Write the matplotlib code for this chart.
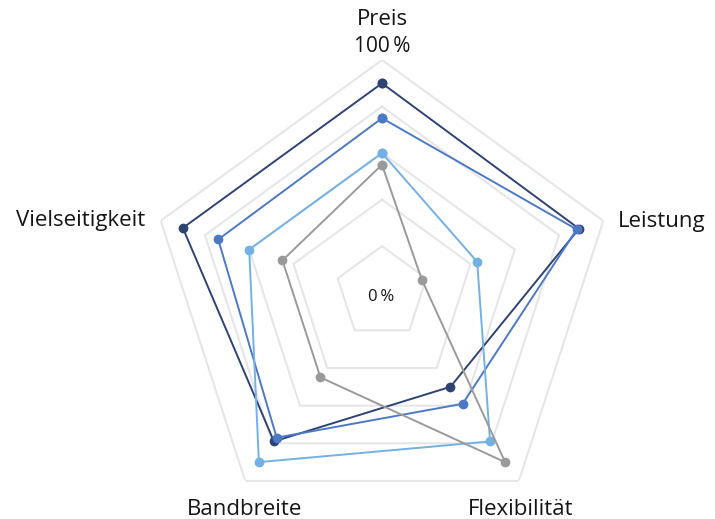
import numpy as np
import matplotlib
matplotlib.use("Agg")
import matplotlib.pyplot as plt

plt.rcParams["font.family"] = ["Open Sans", "DejaVu Sans"]

# =========================
# data
# =========================
categories = ["Preis", "Leistung", "Flexibilität", "Bandbreite", "Vielseitigkeit"]

series_a = [0.90, 0.89, 0.50, 0.79, 0.90]   # dunkelblau
series_b = [0.75, 0.88, 0.59, 0.77, 0.74]   # mittelblau
series_c = [0.60, 0.43, 0.79, 0.90, 0.60]   # hellblau
series_d = [0.55, 0.18, 0.90, 0.45, 0.45]   # grau

grid_levels = [0.2, 0.4, 0.6, 0.8, 1.0]

colors = ["#2f4373", "#4d79c4", "#73b0e4", "#9a9a9a"]

W, H = 715, 519

# =========================
# figure
# =========================
fig = plt.figure(figsize=(W / 100, H / 100), dpi=100)

cx, cy, R = 382, 292.7, 232.7
ax = fig.add_axes([(cx - R) / W, 1 - (cy + R) / H, 2 * R / W, 2 * R / H],
                  projection="polar")
ax.set_theta_offset(np.pi / 2)
ax.set_theta_direction(-1)
ax.set_ylim(0, 1)
ax.set_xticks([])
ax.set_yticks([])
ax.grid(False)
ax.spines["polar"].set_visible(False)
ax.patch.set_alpha(0)

n = len(categories)
angles = np.linspace(0, 2 * np.pi, n, endpoint=False)
closed = np.append(angles, angles[0])

# pentagon grid
for lv in grid_levels:
    ax.plot(closed, [lv] * (n + 1), color="#e6e6e6", lw=1.5, zorder=1,
            solid_joinstyle="miter")

for vals, col in zip([series_a, series_b, series_c, series_d], colors):
    v = np.append(vals, vals[0])
    ax.plot(closed, v, color=col, lw=1.4, marker="o", markersize=6,
            zorder=3, clip_on=False)

# =========================
# labels
# =========================
def px(x, y):
    return x / W, 1 - y / H

fs = 16
tc = "#151515"
fig.text(*px(382, 25), "Preis", ha="center", va="baseline", fontsize=fs, color=tc)
fig.text(*px(382, 52.5), "100\u2009%", ha="center", va="baseline", fontsize=15, color=tc)
fig.text(*px(381.5, 300.7), "0\u2009%", ha="center", va="baseline", fontsize=12, color=tc)
fig.text(*px(618, 226.7), "Leistung", ha="left", va="baseline", fontsize=fs, color=tc)
fig.text(*px(145, 226), "Vielseitigkeit", ha="right", va="baseline", fontsize=fs, color=tc)
fig.text(*px(244.7, 515), "Bandbreite", ha="center", va="baseline", fontsize=fs, color=tc)
fig.text(*px(521, 515), "Flexibilität", ha="center", va="baseline", fontsize=fs, color=tc)

fig.savefig("out.png", dpi=100)
